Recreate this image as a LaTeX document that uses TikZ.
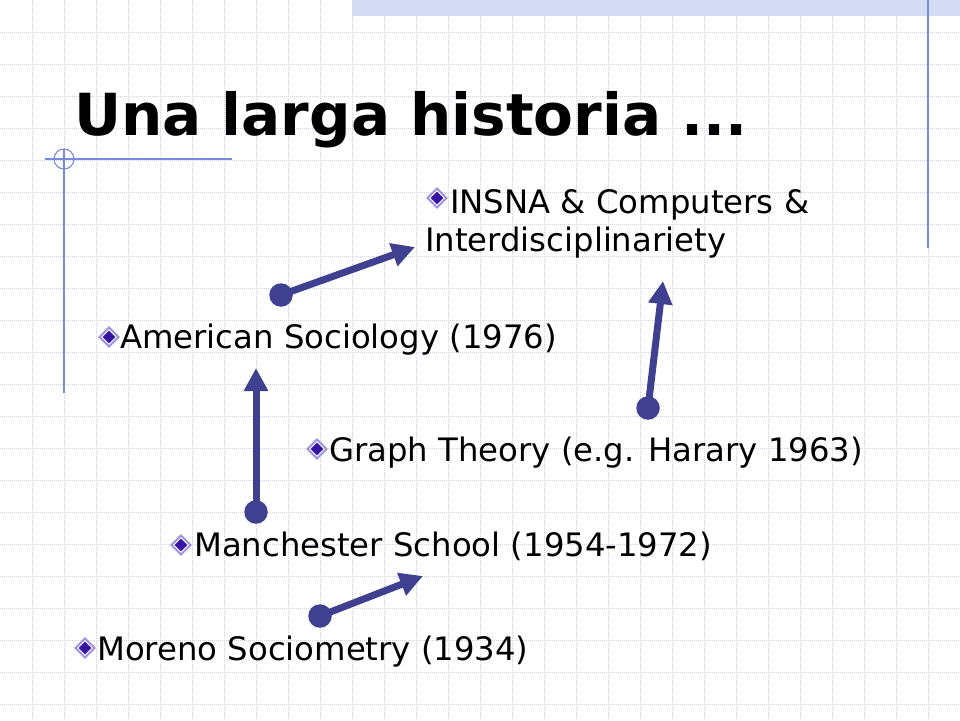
\documentclass[tikz,border=0pt]{standalone}
\usepackage{fontspec}
\setmainfont{DejaVu Sans}
\usetikzlibrary{arrows.meta,shapes.geometric}
\definecolor{arrowc}{RGB}{64,64,144}
\definecolor{bulin}{RGB}{56,20,165}
\definecolor{bulout}{RGB}{155,145,222}
\definecolor{gridc}{RGB}{208,208,234}
\definecolor{bluel}{RGB}{120,138,224}
\definecolor{bandc}{RGB}{212,220,244}
\tikzset{
  body/.style={inner sep=0pt, anchor=base west, font=\fontsize{32.3}{38}\selectfont, text=black},
  titletext/.style={inner sep=0pt, anchor=base west, font=\fontsize{58}{70}\selectfont\bfseries, text=black},
  dotnode/.style={circle, fill=arrowc, minimum size=23.5pt, inner sep=0pt},
  conn/.style={draw=arrowc, line width=7pt, -{Triangle[length=23pt,width=23pt]}},
  bul/.pic={
    \draw[bulout, fill=white, line width=2pt] (-9.5,0) -- (0,-9.5) -- (9.5,0) -- (0,9.5) -- cycle;
    \fill[bulin] (-6.3,0) -- (0,-6.3) -- (6.3,0) -- (0,6.3) -- cycle;
  },
  guide/.style={draw=bluel, line width=1.1pt},
  gridline/.style={gridc, line width=0.7pt, dash pattern=on 1pt off 1pt}
}
\begin{document}
\begin{tikzpicture}[x=1pt,y=-1pt]
\useasboundingbox (0,0) rectangle (960,720);
\fill[white] (0,0) rectangle (960,720);
% grid
\foreach \i in {1,...,29} \draw[gridline] (32*\i,0) -- (32*\i,720);
\foreach \j in {1,...,22} \draw[gridline] (0,32*\j) -- (960,32*\j);
% top band
\fill[bandc] (352,0) rectangle (960,16);
% guide lines
\draw[guide] (928,0) -- (928,248);
\draw[guide] (45,159) -- (232,159);
\draw[guide] (64,149) -- (64,393);
\draw[guide] (64,159) circle[radius=10];
% title
\node[titletext] (title) at (74,135) {Una larga historia ...};
% items
\pic at (437,198) {bul};
\node[body] (insna1) at (450,213) {INSNA \& Computers \&};
\node[body] (insna2) at (425,251) {Interdisciplinariety};
\pic at (109,337) {bul};
\node[body] (amer) at (120,348) {American Sociology (1976)};
\pic at (317,449) {bul};
\node[body] (graph) at (329,461) {Graph Theory (e.g. Harary 1963)};
\pic at (181,545) {bul};
\node[body] (manch) at (194,556) {Manchester School (1954-1972)};
\pic at (85,648) {bul};
\node[body] (moreno) at (97,660) {Moreno Sociometry (1934)};
% dots and tips
\node[dotnode] (d1) at (320,616) {};
\coordinate (t1) at (423,576);
\node[dotnode] (d2) at (256,512) {};
\coordinate (t2) at (256,368);
\node[dotnode] (d3) at (281,295) {};
\coordinate (t3) at (415,247);
\node[dotnode] (d4) at (648,408) {};
\coordinate (t4) at (663,281);
\draw[conn] (d1.center) -- (t1);
\draw[conn] (d2.center) -- (t2);
\draw[conn] (d3.center) -- (t3);
\draw[conn] (d4.center) -- (t4);
\end{tikzpicture}
\end{document}
